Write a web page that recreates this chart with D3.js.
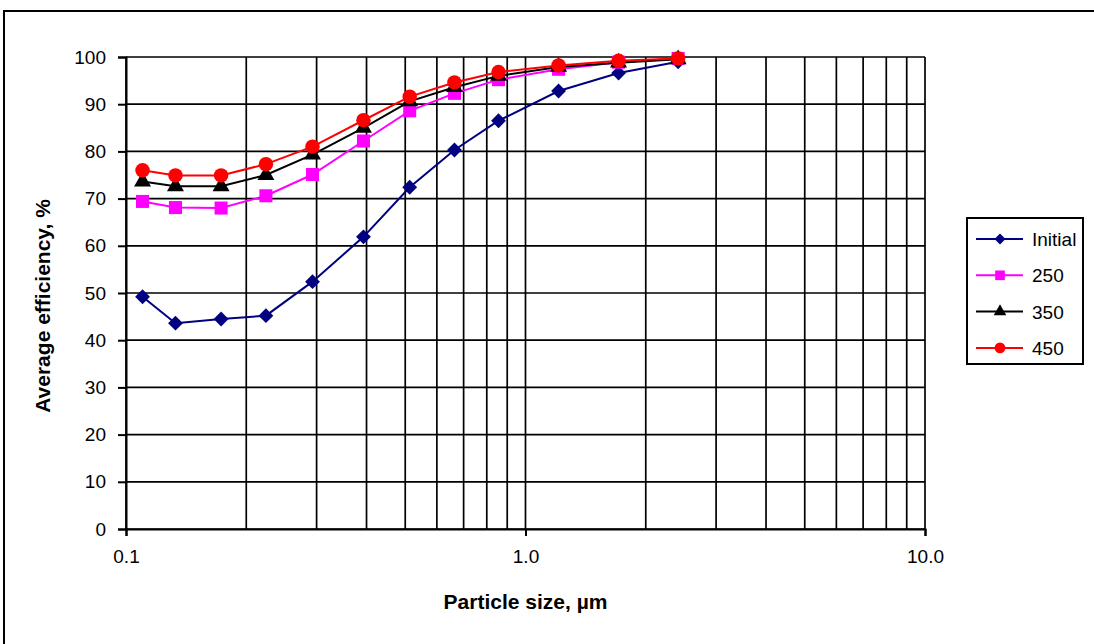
<!DOCTYPE html>
<html>
<head>
<meta charset="utf-8">
<script src="https://d3js.org/d3.v7.min.js"></script>
<style>
  body { margin: 0; background: #fff; }
  text { font-family: "Liberation Sans", Arial, sans-serif; fill: #000; }
</style>
</head>
<body>
<div id="my_dataviz"></div>
<script>
// particle sizes (um) and efficiencies (%)
var sizes = [0.11, 0.133, 0.173, 0.224, 0.293, 0.393, 0.513, 0.664, 0.856, 1.21, 1.71, 2.41];
var initial = [49.2, 43.6, 44.5, 45.2, 52.4, 61.9, 72.4, 80.3, 86.5, 92.8, 96.6, 99.0];
var s250 = [69.4, 68.1, 68.0, 70.6, 75.1, 82.2, 88.6, 92.3, 95.2, 97.4, 98.9, 99.7];
var s350 = [73.6, 72.6, 72.6, 75.0, 79.3, 85.0, 90.6, 93.6, 96.0, 97.9, 98.8, 99.5];
var s450 = [76.0, 74.9, 74.9, 77.3, 81.0, 86.6, 91.6, 94.6, 96.8, 98.2, 99.2, 99.7];
var seriesNames = ["Initial", "250", "350", "450"];
var xTickValues = [0.1, 1, 10];
var xTickLabels = ["0.1", "1.0", "10.0"];
var yTickValues = [0, 10, 20, 30, 40, 50, 60, 70, 80, 90, 100];

var W = 1094, H = 644;
var margin = {top: 57, left: 126, right: 169, bottom: 115};

var svg = d3.select("#my_dataviz")
  .append("svg")
    .attr("width", W)
    .attr("height", H);

// outer chart border (clipped at right/bottom like the original)
svg.append("rect")
  .attr("x", 4).attr("y", 11)
  .attr("width", W).attr("height", H)
  .style("fill", "none").style("stroke", "#000").style("stroke-width", 2);

var x = d3.scaleLog().domain([0.1, 10]).range([margin.left, W - margin.right]);
var y = d3.scaleLinear().domain([0, 100]).range([H - margin.bottom, margin.top]);

// vertical grid at every 1..9 x decade
var xGrid = [];
[0.1, 1].forEach(function(d) {
  for (var k = 1; k <= 9; k++) xGrid.push(d * k);
});
xGrid.push(10);

svg.append("g").selectAll("line")
  .data(xGrid)
  .enter().append("line")
    .attr("x1", function(d) { return x(d); })
    .attr("x2", function(d) { return x(d); })
    .attr("y1", y(0)).attr("y2", y(100))
    .style("stroke", "#000").style("stroke-width", 1.7);

svg.append("g").selectAll("line")
  .data(yTickValues)
  .enter().append("line")
    .attr("x1", x(0.1)).attr("x2", x(10))
    .attr("y1", function(d) { return y(d); })
    .attr("y2", function(d) { return y(d); })
    .style("stroke", "#000").style("stroke-width", 1.7);

// axes
var yAxis = svg.append("g")
  .attr("transform", "translate(" + x(0.1) + ",0)")
  .call(d3.axisLeft(y).tickValues(yTickValues).tickSize(8).tickPadding(12));
var xAxis = svg.append("g")
  .attr("transform", "translate(0," + y(0) + ")")
  .call(d3.axisBottom(x).tickValues(xTickValues)
    .tickFormat(function(d, i) { return xTickLabels[i]; })
    .tickSize(7).tickPadding(14));

[xAxis, yAxis].forEach(function(a) {
  a.select(".domain").style("stroke", "#000").style("stroke-width", 2);
  a.selectAll(".tick line").style("stroke", "#000").style("stroke-width", 2);
  a.selectAll(".tick text")
    .style("font-family", "'Liberation Sans', Arial, sans-serif")
    .style("font-size", "19px").style("fill", "#000");
});

// axis titles
svg.append("text")
  .attr("x", (x(0.1) + x(10)) / 2)
  .attr("y", 609)
  .attr("text-anchor", "middle")
  .style("font-size", "21px").style("font-weight", "bold")
  .text("Particle size, \u00b5m");

svg.append("text")
  .attr("transform", "translate(50," + 306 + ") rotate(-90)")
  .attr("text-anchor", "middle")
  .style("font-size", "21px").style("font-weight", "bold")
  .text("Average efficiency, %");

// series; diamond is a square turned 45 degrees
var series = [
  {name: seriesNames[0], values: initial, color: "#000080", shape: d3.symbolSquare, rot: 45, size: 110},
  {name: seriesNames[1], values: s250, color: "#ff00ff", shape: d3.symbolSquare, rot: 0, size: 170},
  {name: seriesNames[2], values: s350, color: "#000000", shape: d3.symbolTriangle, rot: 0, size: 125},
  {name: seriesNames[3], values: s450, color: "#ff0000", shape: d3.symbolCircle, rot: 0, size: 165}
];

var line = d3.line()
  .x(function(d) { return x(d[0]); })
  .y(function(d) { return y(d[1]); });

series.forEach(function(s) {
  var pts = sizes.map(function(v, i) { return [v, s.values[i]]; });
  var g = svg.append("g");
  g.append("path")
    .datum(pts)
    .attr("d", line)
    .style("fill", "none")
    .style("stroke", s.color)
    .style("stroke-width", 2);
  g.selectAll("path.m")
    .data(pts)
    .enter().append("path")
      .attr("class", "m")
      .attr("transform", function(d) {
        return "translate(" + x(d[0]) + "," + y(d[1]) + ") rotate(" + s.rot + ")";
      })
      .attr("d", d3.symbol().type(s.shape).size(s.size))
      .style("fill", s.color);
});

// legend
var legend = svg.append("g");
legend.append("rect")
  .attr("x", 967).attr("y", 218)
  .attr("width", 116).attr("height", 146)
  .style("fill", "#fff").style("stroke", "#000").style("stroke-width", 2);

var items = legend.selectAll("g.item")
  .data(series)
  .enter().append("g")
    .attr("class", "item")
    .attr("transform", function(d, i) { return "translate(0," + (239 + i * 36.3) + ")"; });

items.append("line")
  .attr("x1", 976).attr("x2", 1023)
  .style("stroke", function(d) { return d.color; })
  .style("stroke-width", 2);
items.append("path")
  .attr("transform", function(d) { return "translate(1000,0) rotate(" + d.rot + ")"; })
  .attr("d", function(d) { return d3.symbol().type(d.shape).size(d.size * 0.55)(); })
  .style("fill", function(d) { return d.color; });
items.append("text")
  .attr("x", 1032).attr("y", 7)
  .style("font-size", "19px")
  .text(function(d) { return d.name; });
</script>
</body>
</html>
